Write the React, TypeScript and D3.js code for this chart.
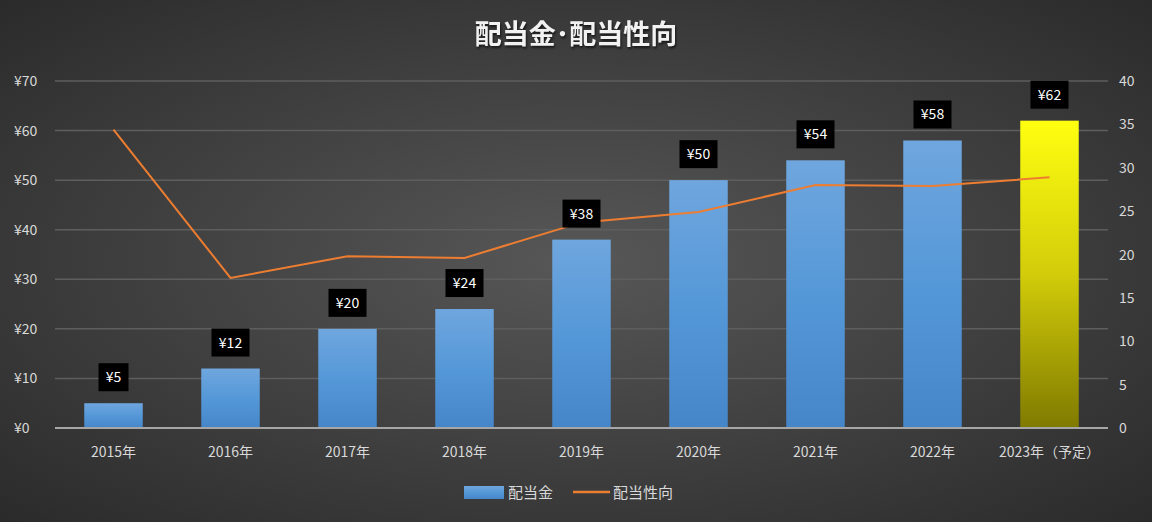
import React from "react";
import * as d3 from "d3";

const categories = ["2015年","2016年","2017年","2018年","2019年","2020年","2021年","2022年","2023年(予定)"];
const dividends = [5,12,20,24,38,50,54,58,62];
const payoutRatio = [34.4,17.3,19.8,19.6,23.7,24.9,28.0,27.9,28.9];
const leftTicks = [0,10,20,30,40,50,60,70];
const rightTicks = [0,5,10,15,20,25,30,35,40];

const W = 1152, H = 522;
const font = "'Noto Sans CJK JP', sans-serif";

export default function App() {
  const x = d3.scaleBand().domain(categories).range([55, 1108]).paddingInner(0.5).paddingOuter(0.25);
  const yL = d3.scaleLinear().domain([0, 70]).range([428, 81]);
  const yR = d3.scaleLinear().domain([0, 40]).range([428, 81]);
  const cx = (c: string) => (x(c) as number) + x.bandwidth() / 2;
  const line = d3.line<number>().x((_, i) => cx(categories[i])).y(d => yR(d));
  return (
    <svg width={W} height={H} style={{ position: "absolute", left: 0, top: 0 }}>
      <defs>
        <radialGradient id="bg" cx="0.5" cy="0.5" r="0.7">
          <stop offset="0" stopColor="#575757" />
          <stop offset="1" stopColor="#2b2b2b" />
        </radialGradient>
        <linearGradient id="blue" x1="0" y1="0" x2="0" y2="1">
          <stop offset="0" stopColor="#6fa6de" />
          <stop offset="0.5" stopColor="#5598d8" />
          <stop offset="1" stopColor="#4586c8" />
        </linearGradient>
        <linearGradient id="yel" x1="0" y1="0" x2="0" y2="1">
          <stop offset="0" stopColor="#ffff10" />
          <stop offset="0.5" stopColor="#d2cc0a" />
          <stop offset="1" stopColor="#7f7a00" />
        </linearGradient>
      </defs>
      <rect width={W} height={H} fill="url(#bg)" />
      <text x={576} y={44} textAnchor="middle" fill="#f2f2f2" fontFamily={font} fontSize={27} fontWeight="bold"
        style={{ filter: "drop-shadow(1px 2px 1px rgba(0,0,0,0.6))" }}>配当金･配当性向</text>
      {leftTicks.map(t => (
        <g key={t}>
          {t > 0 && <line x1={55} x2={1108} y1={yL(t)} y2={yL(t)} stroke="#5e5e5e" strokeWidth={1.5} />}
          <text x={14} y={yL(t) + 5} fill="#d9d9d9" fontFamily={font} fontSize={14}>¥{t}</text>
        </g>
      ))}
      {rightTicks.map(t => (
        <text key={t} x={1119} y={yR(t) + 5} fill="#d9d9d9" fontFamily={font} fontSize={14}>{t}</text>
      ))}
      {categories.map((c, i) => (
        <rect key={c} x={x(c)} y={yL(dividends[i])} width={x.bandwidth()} height={428 - yL(dividends[i])}
          fill={i === categories.length - 1 ? "url(#yel)" : "url(#blue)"} />
      ))}
      <line x1={55} x2={1108} y1={428} y2={428} stroke="#a6a6a6" strokeWidth={2} />
      <path d={line(payoutRatio) || ""} fill="none" stroke="#ed7d31" strokeWidth={2} />
      {categories.map((c, i) => {
        const label = "¥" + dividends[i];
        const w = label.length * 8 + 14;
        const yb = yL(dividends[i]) - 12;
        return (
          <g key={c}>
            <rect x={cx(c) - w / 2} y={yb - 28} width={w} height={28} fill="#000" />
            <text x={cx(c)} y={yb - 9} textAnchor="middle" fill="#fff" fontFamily={font} fontSize={14}>{label}</text>
          </g>
        );
      })}
      {categories.map(c => (
        <text key={c} x={cx(c)} y={457} textAnchor="middle" fill="#d9d9d9" fontFamily={font} fontSize={14}>{c.replace("(", "（").replace(")", "）")}</text>
      ))}
      <rect x={464} y={486} width={40} height={13} fill="url(#blue)" />
      <text x={508} y={498} fill="#d9d9d9" fontFamily={font} fontSize={15}>配当金</text>
      <line x1={573} x2={610} y1={492} y2={492} stroke="#ed7d31" strokeWidth={2.5} />
      <text x={613} y={498} fill="#d9d9d9" fontFamily={font} fontSize={15}>配当性向</text>
    </svg>
  );
}
